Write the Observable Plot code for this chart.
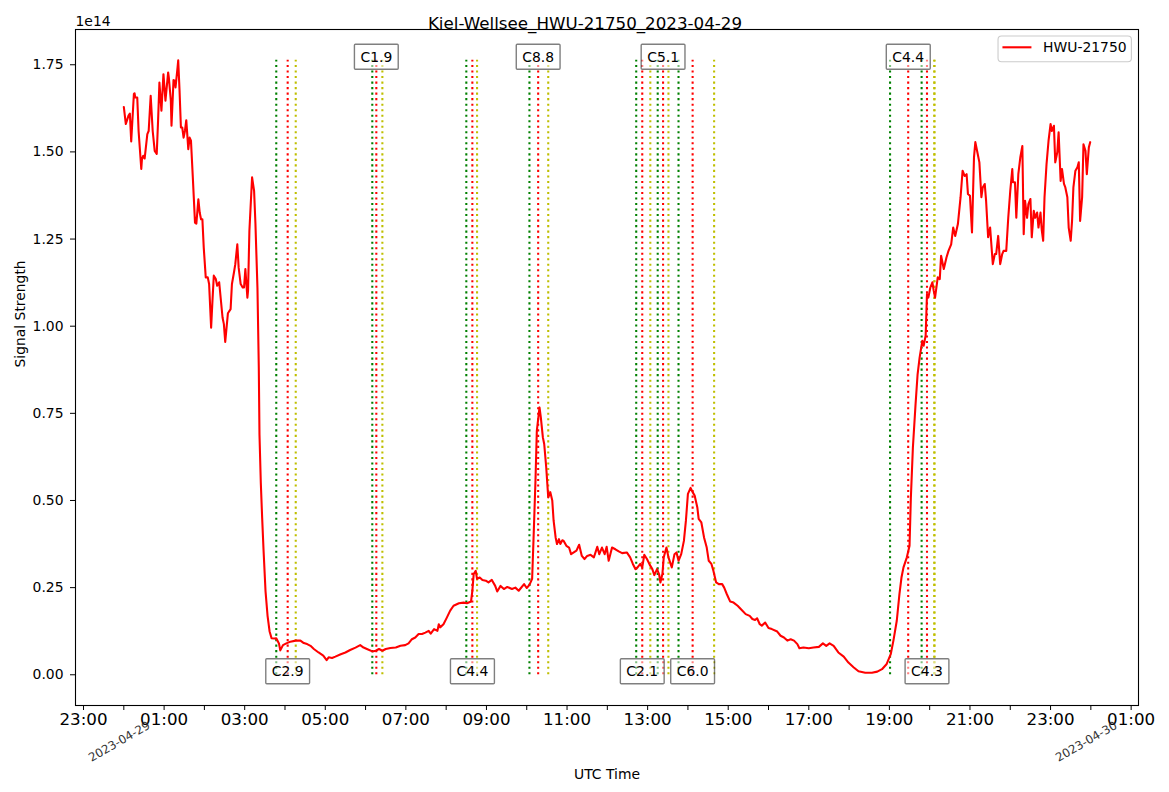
<!DOCTYPE html>
<html><head><meta charset="utf-8">
<script src="https://cdn.jsdelivr.net/npm/d3@7"></script>
<script src="https://cdn.jsdelivr.net/npm/@observablehq/plot@0.6"></script>
<style>html,body{margin:0;padding:0;background:#fff;} svg{display:block}</style>
</head><body><div id="chart"></div>
<script>
// ---- data ----
const titleText = "Kiel-Wellsee_HWU-21750_2023-04-29";
const stationName = "HWU-21750";
const dayLabels = ["2023-04-29", "2023-04-30"];
const dayLabelMinutes = [0, 1440];
const yTicks = [0, 0.25, 0.5, 0.75, 1.0, 1.25, 1.5, 1.75];
const yExponent = "1e14";

// minutes after 2023-04-29 00:00 UTC
const timeMin = [0,3,7,9,11,15,16,17,20,22,26,27,29,31,35,37,40,43,46,49,51,53,56,59,62,66,67,70,71,74,76,77,80,81,83,85,87,89,91,93,96,98,100,103,106,108,111,113,115,117,119,122,125,127,130,132,134,137,139,142,147,149,151,155,159,161,164,166,169,171,174,177,179,181,184,185,187,191,194,196,199,201,202,204,206,208,211,214,217,220,224,227,231,233,237,242,248,256,263,268,273,278,283,290,297,302,305,310,315,323,330,337,345,352,357,362,370,375,380,385,390,397,405,412,419,424,429,434,439,444,449,454,457,462,467,469,471,476,481,486,491,499,506,511,517,519,521,524,526,530,534,539,543,548,553,556,561,566,571,578,583,588,596,600,604,608,610,613,615,619,621,624,626,629,632,635,638,640,643,645,648,650,653,655,659,663,666,670,674,678,682,686,690,695,700,705,708,712,716,719,722,727,732,737,742,749,754,758,762,765,769,772,775,779,783,787,790,794,797,799,802,804,808,811,816,820,823,826,830,834,837,840,844,847,850,854,856,860,864,868,871,875,878,882,886,891,894,898,903,908,914,919,926,932,936,940,943,947,950,955,960,965,973,978,983,988,993,998,1003,1006,1012,1020,1027,1035,1041,1046,1051,1057,1064,1072,1079,1087,1094,1104,1114,1122,1129,1136,1142,1146,1151,1155,1158,1161,1166,1170,1172,1175,1179,1182,1185,1189,1191,1194,1196,1198,1201,1204,1206,1208,1212,1215,1217,1221,1225,1228,1232,1235,1238,1242,1246,1249,1252,1255,1257,1260,1263,1266,1268,1271,1274,1277,1279,1282,1284,1287,1290,1294,1297,1299,1302,1305,1308,1310,1314,1317,1320,1323,1324,1327,1329,1332,1335,1338,1340,1342,1345,1347,1350,1352,1355,1357,1360,1362,1365,1367,1369,1371,1374,1377,1380,1382,1385,1387,1390,1392,1395,1397,1400,1402,1405,1407,1410,1412,1414,1417,1420,1422,1424,1427,1429,1432,1434,1437,1439];

// signal strength in units of 1e14
const signal = [1.629,1.580,1.604,1.610,1.530,1.666,1.668,1.656,1.656,1.560,1.451,1.479,1.489,1.481,1.551,1.560,1.661,1.560,1.503,1.494,1.589,1.699,1.618,1.723,1.647,1.728,1.714,1.647,1.575,1.706,1.704,1.685,1.742,1.763,1.675,1.570,1.570,1.541,1.560,1.591,1.508,1.541,1.532,1.417,1.297,1.294,1.364,1.326,1.307,1.307,1.226,1.140,1.140,1.121,0.996,1.073,1.145,1.135,1.116,1.126,1.025,1.006,0.955,1.037,1.049,1.121,1.154,1.178,1.235,1.168,1.121,1.111,1.111,1.164,1.082,1.102,1.274,1.427,1.388,1.293,1.110,0.88,0.69,0.55,0.45,0.36,0.24,0.17,0.125,0.105,0.104,0.105,0.090,0.070,0.085,0.090,0.095,0.098,0.098,0.091,0.088,0.083,0.074,0.064,0.055,0.042,0.050,0.048,0.052,0.059,0.064,0.071,0.078,0.085,0.078,0.074,0.067,0.069,0.074,0.069,0.074,0.077,0.078,0.083,0.085,0.090,0.102,0.107,0.117,0.117,0.121,0.126,0.118,0.131,0.126,0.145,0.136,0.145,0.164,0.184,0.198,0.205,0.207,0.205,0.210,0.241,0.289,0.298,0.275,0.279,0.272,0.270,0.265,0.272,0.255,0.239,0.255,0.246,0.252,0.246,0.250,0.241,0.260,0.249,0.258,0.275,0.384,0.557,0.700,0.767,0.738,0.681,0.662,0.595,0.509,0.524,0.500,0.442,0.394,0.375,0.389,0.375,0.386,0.384,0.370,0.365,0.346,0.351,0.356,0.373,0.341,0.332,0.341,0.344,0.337,0.367,0.346,0.365,0.346,0.367,0.327,0.365,0.360,0.354,0.349,0.351,0.337,0.318,0.303,0.308,0.318,0.308,0.344,0.332,0.316,0.303,0.286,0.303,0.289,0.265,0.289,0.337,0.365,0.337,0.308,0.346,0.351,0.327,0.346,0.384,0.442,0.519,0.536,0.524,0.514,0.480,0.447,0.437,0.394,0.365,0.327,0.318,0.298,0.265,0.260,0.260,0.250,0.231,0.210,0.207,0.198,0.188,0.174,0.169,0.160,0.157,0.162,0.145,0.141,0.150,0.134,0.131,0.124,0.112,0.107,0.098,0.102,0.098,0.088,0.076,0.078,0.076,0.078,0.080,0.090,0.083,0.090,0.083,0.064,0.052,0.035,0.021,0.010,0.006,0.006,0.009,0.016,0.031,0.059,0.098,0.155,0.232,0.279,0.308,0.337,0.370,0.509,0.652,0.777,0.862,0.910,0.958,0.944,0.973,1.092,1.082,1.111,1.126,1.102,1.082,1.140,1.135,1.202,1.164,1.197,1.216,1.235,1.283,1.259,1.293,1.370,1.446,1.431,1.436,1.379,1.374,1.269,1.485,1.528,1.499,1.470,1.370,1.398,1.408,1.360,1.255,1.283,1.178,1.207,1.207,1.259,1.178,1.207,1.216,1.216,1.311,1.388,1.451,1.413,1.413,1.311,1.436,1.485,1.517,1.264,1.360,1.311,1.350,1.365,1.255,1.331,1.311,1.326,1.283,1.326,1.274,1.245,1.370,1.465,1.532,1.580,1.560,1.575,1.470,1.499,1.556,1.417,1.451,1.408,1.398,1.370,1.283,1.245,1.302,1.398,1.446,1.456,1.470,1.302,1.370,1.522,1.503,1.436,1.513,1.528];

// flare events (UTC)
const flareClass = ["C2.9","C1.9","C4.4","C8.8","C2.1","C5.1","C6.0","C4.4","C4.3"];
const flareStart = ["03:47","06:10","08:30","10:04","12:43","13:15","13:46","19:01","19:48"];
const flarePeak  = ["04:04","06:16","08:39","10:17","12:52","13:23","14:07","19:28","19:56"];
const flareEnd   = ["04:16","06:25","08:46","10:32","13:04","13:31","14:39","20:07","20:07"];

// ---- build ----
if (timeMin.length !== signal.length) throw new Error("length mismatch " + timeMin.length + " vs " + signal.length);
const day0 = Date.UTC(2023, 3, 29);
const atMin = m => new Date(day0 + m * 60000);
const hm = s => { const [h, m] = s.split(":").map(Number); return atMin(h * 60 + m); };
const series = timeMin.map((m, i) => ({t: atMin(m), v: signal[i]}));
const vmax = d3.max(signal);
const flares = flareClass.map((c, i) => ({
  cls: c, start: hm(flareStart[i]), peak: hm(flarePeak[i]), end: hm(flareEnd[i]),
  y: i % 2 ? vmax : 0
}));
const tExt = d3.extent(timeMin);
const tPad = (tExt[1] - tExt[0]) * 0.05;
const xDomain = [atMin(tExt[0] - tPad), atMin(tExt[1] + tPad)];
const yPad = (vmax - 0) * 0.05;
const yDomain = [0 - yPad, vmax + yPad];
const xTicks = d3.utcHours(xDomain[0], xDomain[1]);
const hhmm = d3.utcFormat("%H:%M");
const days = dayLabels.map((s, i) => ({label: s, t: atMin(dayLabelMinutes[i])}));

const W = 1169, H = 792, ML = 75, MR = 31, MT = 29, MB = 87;
const FONT = "'DejaVu Sans', sans-serif";
const dotted = {y1: 0, y2: vmax, strokeWidth: 2.08, strokeDasharray: "2.08,3.44"};

const chart = Plot.plot({
  width: W, height: H,
  marginLeft: ML, marginRight: MR, marginTop: MT, marginBottom: MB,
  style: {fontFamily: FONT, fontSize: "13.9px", background: "#fff", color: "#000", overflow: "visible"},
  x: {type: "utc", domain: xDomain},
  y: {domain: yDomain},
  marks: [
    Plot.ruleX(flares, {x: "start", stroke: "#008000", ...dotted}),
    Plot.ruleX(flares, {x: "peak", stroke: "#ff0000", ...dotted}),
    Plot.ruleX(flares, {x: "end", stroke: "#bfbf00", ...dotted}),
    Plot.line(series, {x: "t", y: "v", stroke: "#ff0000", strokeWidth: 2.08}),
    Plot.text(flares, {x: "peak", y: "y", text: "cls", dy: -3, fontSize: 13.9, lineAnchor: "middle", fill: "#000"}),
    Plot.frame({stroke: "#000", strokeWidth: 1.1}),
    Plot.axisX({ticks: xTicks, tickFormat: d => d.getUTCHours() % 2 === 1 ? hhmm(d) : "", tickSize: 5, tickPadding: 2.3, fontSize: 16.7, label: null}),
    Plot.axisY({ticks: yTicks, tickFormat: d => d.toFixed(2), tickSize: 5, tickPadding: 7, fontSize: 13.9, label: null}),
    Plot.text(days, {x: "t", text: "label", frameAnchor: "bottom", dx: -4.5, dy: 36, rotate: -30, fontSize: 11.8, lineAnchor: "middle", textAnchor: "middle", fill: "#333"}),
    Plot.text([titleText], {frameAnchor: "top", dx: (W / 2) - (ML + (W - ML - MR) / 2), dy: -6.3, fontSize: 16.7, lineAnchor: "middle"}),
    Plot.text([yExponent], {frameAnchor: "top-left", textAnchor: "start", dx: 0, dy: -7.5, fontSize: 13.9, lineAnchor: "middle"}),
    Plot.text(["UTC Time"], {frameAnchor: "bottom", dy: 68.6, fontSize: 13.9, lineAnchor: "middle"}),
    Plot.text(["Signal Strength"], {frameAnchor: "left", dx: -55, rotate: -90, fontSize: 13.9, lineAnchor: "middle"})
  ]
});

document.getElementById("chart").append(chart);
const svg = d3.select(chart);

// boxes behind flare labels
const clsSet = new Set(flareClass);
svg.selectAll("text").filter(function () { return clsSet.has(this.textContent); }).each(function () {
  const bb = this.getBBox();
  const r = document.createElementNS("http://www.w3.org/2000/svg", "rect");
  r.setAttribute("x", bb.x - 6);
  r.setAttribute("y", bb.y - 4.5);
  r.setAttribute("width", bb.width + 12);
  r.setAttribute("height", bb.height + 9);
  r.setAttribute("rx", 1);
  r.setAttribute("fill", "#fff");
  r.setAttribute("fill-opacity", 0.5);
  r.setAttribute("stroke", "#000");
  r.setAttribute("stroke-opacity", 0.5);
  r.setAttribute("stroke-width", 1.4);
  const tr = this.getAttribute("transform");
  if (tr) r.setAttribute("transform", tr);
  this.parentNode.insertBefore(r, this);
});

// legend (top-right, inside the frame)
const lg = svg.append("g").attr("font-family", FONT).attr("font-size", 13.9).attr("text-anchor", "start");
const lgRect = lg.append("rect");
const lgLine = lg.append("line");
const lgText = lg.append("text").text(stationName).attr("fill", "#000").attr("text-anchor", "start");
const tw = lgText.node().getComputedTextLength();
const boxW = 45 + tw + 4.8, boxH = 25.7;
const boxL = (W - MR) - 6.6 - boxW, boxT = MT + 7;
lgRect.attr("x", boxL).attr("y", boxT).attr("width", boxW).attr("height", boxH).attr("rx", 3.5)
  .attr("fill", "#fff").attr("fill-opacity", 0.8).attr("stroke", "#cccccc").attr("stroke-width", 1.1);
lgLine.attr("x1", boxL + 4.4).attr("x2", boxL + 33.4).attr("y1", boxT + 11.3).attr("y2", boxT + 11.3)
  .attr("stroke", "#ff0000").attr("stroke-width", 2.1);
lgText.attr("x", boxL + 45).attr("y", boxT + 11.3).attr("dy", "0.36em");
</script>
</body></html>
